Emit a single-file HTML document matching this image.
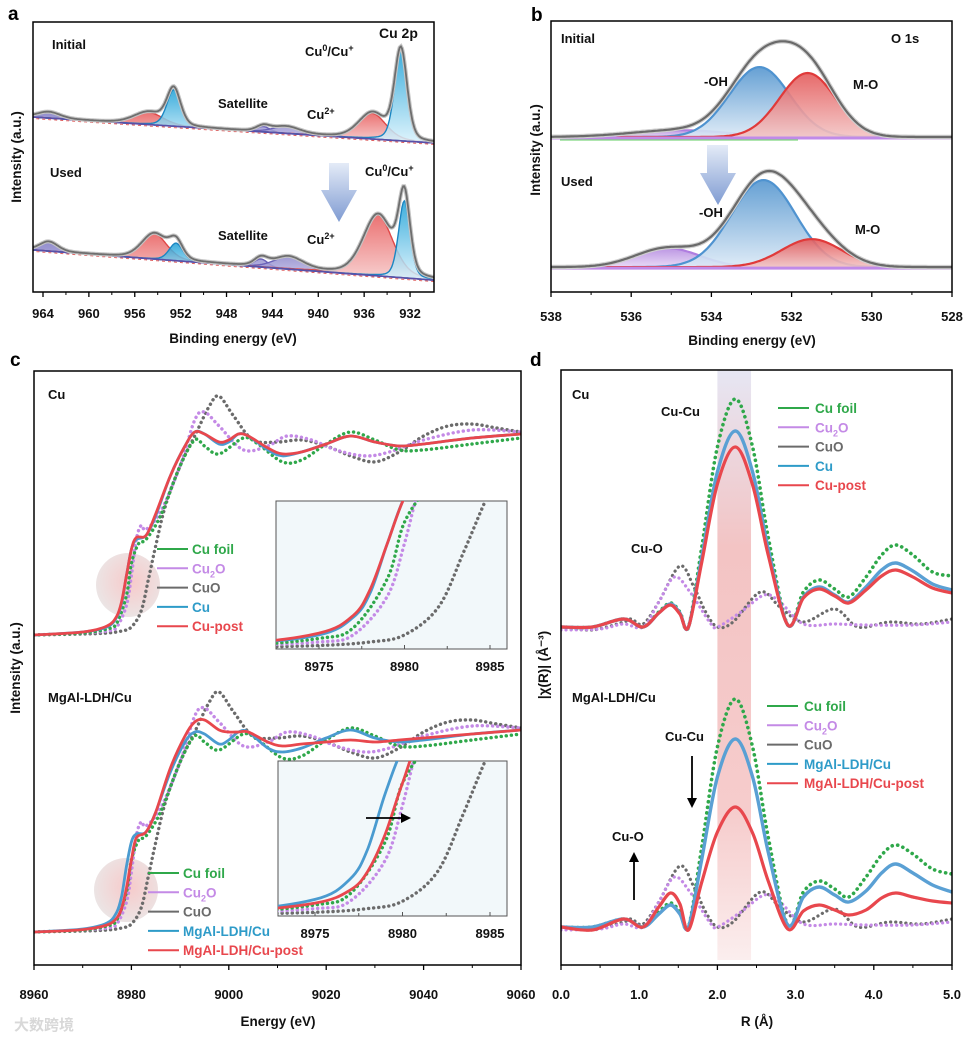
<!DOCTYPE html>
<html><head><meta charset="utf-8">
<style>
html,body{margin:0;padding:0;background:#fff;}
svg{display:block;font-family:"Liberation Sans","Noto Sans CJK SC",sans-serif;}
.lbl{font-weight:bold;font-size:13px;fill:#111;}
.tick{font-weight:bold;font-size:13px;fill:#111;}
.ttl{font-weight:bold;font-size:13.5px;fill:#111;}
.plet{font-weight:bold;font-size:19px;fill:#000;}
.leg{font-weight:bold;font-size:13.5px;}
</style></head>
<body>
<svg id="fig" width="976" height="1038" viewBox="0 0 976 1038" xmlns="http://www.w3.org/2000/svg">
<defs>
<linearGradient id="gBlueA" x1="0" y1="0" x2="0" y2="1"><stop offset="0" stop-color="#1a9fd6"/><stop offset="1" stop-color="#d9f2fc"/></linearGradient>
<linearGradient id="gRedA" x1="0" y1="0" x2="0" y2="1"><stop offset="0" stop-color="#e85a5a"/><stop offset="1" stop-color="#f6c9c9"/></linearGradient>
<linearGradient id="gPurA" x1="0" y1="0" x2="0" y2="1"><stop offset="0" stop-color="#7e78c4"/><stop offset="1" stop-color="#c9c6ea"/></linearGradient>
<linearGradient id="gBlueB" x1="0" y1="0" x2="0" y2="1"><stop offset="0" stop-color="#5596cf"/><stop offset="1" stop-color="#dbe9f6"/></linearGradient>
<linearGradient id="gRedB" x1="0" y1="0" x2="0" y2="1"><stop offset="0" stop-color="#e45a5a"/><stop offset="1" stop-color="#f3c4c4"/></linearGradient>
<linearGradient id="gPurB" x1="0" y1="0" x2="0" y2="1"><stop offset="0" stop-color="#b58be0"/><stop offset="1" stop-color="#e6d6f5"/></linearGradient>
<linearGradient id="gArrow" x1="0" y1="0" x2="0" y2="1"><stop offset="0" stop-color="#e4ebf7"/><stop offset="1" stop-color="#7f9bd2"/></linearGradient>
<linearGradient id="gBand" x1="0" y1="0" x2="0" y2="1"><stop offset="0" stop-color="#e6e6f3"/><stop offset="0.3" stop-color="#f3c4c4"/><stop offset="0.75" stop-color="#f6cccc"/><stop offset="1" stop-color="#fbeeee"/></linearGradient>
<radialGradient id="gCirc" cx="0.55" cy="0.45" r="0.6"><stop offset="0" stop-color="#f4b8b8"/><stop offset="1" stop-color="#e4dede"/></radialGradient>
<clipPath id="clipA"><rect x="33" y="22" width="401" height="270"/></clipPath>
<clipPath id="clipB"><rect x="551" y="21" width="401" height="271"/></clipPath>
<clipPath id="clipC"><rect x="34" y="371" width="487" height="594"/></clipPath>
<clipPath id="clipI1"><rect x="276" y="501" width="231" height="148"/></clipPath>
<clipPath id="clipI2"><rect x="278" y="761" width="229" height="155"/></clipPath>
<clipPath id="clipD"><rect x="561" y="370" width="391" height="595"/></clipPath>
</defs>
<g id="layer"></g>
</svg>
<script>
// ===== Panel a data (Cu 2p XPS fitted components) =====
const aTopCenters=[932.8,935.3,952.6,954.8,944.8,942.8,963.5];
const aTopHeights=[33.5,9.5,13.5,4.5,2,2.5,2.3];
const aTopWidths=[0.55,1.2,0.6,1.3,0.6,1.2,1.0];
const aTopKinds=['blue','red','blue','red','purple','purple','purple'];
const aTopBase=[64.8,55.2];
const aUsedCenters=[932.5,934.8,952.4,954.3,945.0,942.6,963.5];
const aUsedHeights=[28.5,22.5,6.5,9.4,3,4.5,3.5];
const aUsedWidths=[0.5,1.3,0.6,1.1,0.6,1.3,0.8];
const aUsedKinds=['blue','red','blue','red','purple','purple','purple'];
const aUsedBase=[15.6,4.4];
const aTicks=[964,960,956,952,948,944,940,936,932];
// ===== Panel b data (O 1s) =====
const bTopCenters=[532.8,531.6,534.8];
const bTopHeights=[25.8,23.6,2.5];
const bTopWidths=[0.75,0.7,1.2];
const bTopKinds=['blue','red','purple'];
const bTopBase=57.2;
const bUsedCenters=[532.7,531.5,535.1];
const bUsedHeights=[32.1,10.3,7];
const bUsedWidths=[0.8,0.75,0.8];
const bUsedKinds=['blue','red','purple'];
const bUsedBase=9.2;
const bTicks=[538,536,534,532,530,528];
// ===== Panel c data (XANES) =====
const cuFoilE=[8960,8970,8975,8977,8979,8980,8981.5,8983,8986,8990,8993,8995,8998,9003,9006,9011,9015,9020,9025,9030,9035,9040,9050,9060];
const cuFoilMu=[0,0.01,0.03,0.06,0.2,0.36,0.46,0.48,0.6,0.85,0.98,0.95,0.91,0.99,0.96,0.87,0.88,0.96,1.02,0.98,0.93,0.93,0.96,0.99];
const cu2oE=[8960,8970,8975,8977,8979,8980,8981,8982,8983,8986,8990,8993,8995,8998,9003,9008,9012,9017,9022,9028,9033,9040,9050,9060];
const cu2oMu=[0,0.01,0.02,0.04,0.15,0.3,0.48,0.55,0.53,0.62,0.85,1.08,1.12,1.05,0.93,0.95,1.0,0.98,0.93,0.9,0.92,0.98,1.03,1.02];
const cuoE=[8960,8970,8975,8978,8980,8982,8983.5,8985,8987,8990,8993,8996,8998,9001,9005,9010,9015,9020,9025,9030,9035,9040,9045,9050,9055,9060];
const cuoMu=[0,0.005,0.01,0.02,0.04,0.12,0.28,0.45,0.65,0.85,1.0,1.15,1.2,1.1,0.98,0.97,0.98,0.95,0.9,0.87,0.92,1.0,1.05,1.06,1.04,1.02];
const sampleE=[8960,8970,8975,8977,8978,8979,8980,8981,8983,8985,8988,8991,8993,8995,8998,9000,9002,9004,9008,9011,9015,9020,9025,9030,9035,9040,9050,9060];
const cuMu=[0,0.015,0.04,0.09,0.16,0.3,0.43,0.48,0.5,0.6,0.8,0.95,1.02,1.01,0.96,0.97,1.01,1.0,0.93,0.9,0.92,0.96,1.0,0.97,0.95,0.96,0.99,1.01];
const cuPostMu=[0,0.015,0.045,0.095,0.17,0.3,0.43,0.49,0.5,0.61,0.8,0.95,1.02,1.01,0.97,0.98,1.01,1.0,0.94,0.91,0.92,0.96,1.0,0.97,0.95,0.96,0.99,1.01];
const mgalMu=[0,0.015,0.045,0.1,0.18,0.33,0.45,0.49,0.5,0.6,0.8,0.95,1.0,0.99,0.94,0.96,1.0,1.0,0.92,0.9,0.92,0.97,1.01,0.97,0.95,0.96,0.99,1.01];
const mgalPostMu=[0,0.012,0.035,0.07,0.12,0.22,0.36,0.47,0.5,0.6,0.82,0.98,1.05,1.06,1.01,1.0,1.0,1.0,0.95,0.93,0.94,0.95,0.96,0.95,0.96,0.97,0.99,1.01];
const cTicks=[8960,8980,9000,9020,9040,9060];
const insetTicks=[8975,8980,8985];
// ===== Panel d data (EXAFS FT) =====
const metalR=[0,0.4,0.8,1.05,1.25,1.4,1.52,1.63,1.8,2.0,2.23,2.45,2.65,2.9,3.1,3.3,3.5,3.68,3.9,4.1,4.28,4.5,4.75,5.0];
const foilTop=[0,0,0.8,0,1.5,2.4,1.5,0,8,18,22.8,18,9,0.2,3.5,4.7,3.8,3.0,5.0,7.2,8.2,7.2,5.5,5.1];
const cuTop=[0,0,0.8,0,1.4,2.3,1.4,0,7,15.5,19.6,15.5,7.8,0.2,3.0,4.0,3.2,2.5,4.0,5.7,6.4,5.6,4.3,3.7];
const cuPostTop=[0,0,0.8,0,1.4,2.2,1.3,0,6.5,14.3,18.0,14.2,7.2,0.2,2.9,3.8,3.1,2.4,3.7,5.1,5.7,5.0,3.9,3.4];
const foilBot=[0,0,0.8,0,1.5,2.4,1.5,0,8,18,22.8,18,9,0.2,3.5,4.6,3.8,3.0,5.0,7.2,8.2,7.3,5.8,5.3];
const mgalBot=[0,0,0.8,0,1.3,2.2,1.3,0,6.8,15,18.8,15,7.5,0.2,3.0,4.0,3.2,2.5,3.6,5.4,6.3,5.4,4.2,3.5];
const mgalPostBot=[0,-0.3,0.8,0,2.0,3.4,2.3,-0.3,4.5,9.5,12.0,9.4,4.6,-0.2,1.6,2.2,1.7,1.2,1.7,2.9,3.4,3.0,2.6,2.4];
const cuoR=[0,0.4,0.8,0.9,1.05,1.25,1.52,1.7,1.85,2.0,2.2,2.55,2.8,3.1,3.5,3.8,4.2,4.6,5.0];
const cuoVals=[0,-0.3,0.5,0.8,0.3,2.5,6.1,4,1.5,0,0.5,3.5,2.0,0.5,1.8,0,0.5,0.3,0.8];
const cu2oR=[0,0.5,0.8,1.05,1.25,1.45,1.65,1.9,2.0,2.3,2.6,2.8,3.1,3.5,3.9,4.5,5.0];
const cu2oVals=[-0.3,-0.2,0.3,0,2.5,5.0,3.5,0.5,0,1.5,3.2,2.5,0.3,0.3,0.2,0.2,0.5];
const dTicks=[0,1,2,3,4,5];

const NS='http://www.w3.org/2000/svg';
const layer=document.getElementById('layer');
function mk(tag,attrs,parent){const e=document.createElementNS(NS,tag);for(const k in attrs)e.setAttribute(k,attrs[k]);(parent||layer).appendChild(e);return e;}
function txt(x,y,s,cls,parent,anchor,fill,size){const t=mk('text',{x:x,y:y,class:cls},parent);if(anchor)t.setAttribute('text-anchor',anchor);if(fill)t.style.fill=fill;if(size)t.style.fontSize=size;t.textContent=s;return t;}
function smooth(pts){let d='M'+pts[0][0].toFixed(1)+','+pts[0][1].toFixed(1);for(let i=0;i<pts.length-1;i++){const p0=pts[i-1]||pts[i],p1=pts[i],p2=pts[i+1],p3=pts[i+2]||p2;const c1=[p1[0]+(p2[0]-p0[0])/6,p1[1]+(p2[1]-p0[1])/6];const c2=[p2[0]-(p3[0]-p1[0])/6,p2[1]-(p3[1]-p1[1])/6];d+='C'+c1[0].toFixed(1)+','+c1[1].toFixed(1)+' '+c2[0].toFixed(1)+','+c2[1].toFixed(1)+' '+p2[0].toFixed(1)+','+p2[1].toFixed(1);}return d;}
function poly(pts){return 'M'+pts.map(p=>p[0].toFixed(1)+','+p[1].toFixed(1)).join('L');}
function pv(x,c,h,w,eta){const g=Math.exp(-(x-c)*(x-c)/(2*w*w));const l=1/(1+((x-c)/(w*1.18))**2);return h*((1-eta)*g+eta*l);}

function ticksX(g,vals,xf,yb,minorVals){vals.forEach(v=>{mk('line',{x1:xf(v),x2:xf(v),y1:yb,y2:yb+5,stroke:'#000','stroke-width':1.3},g);});(minorVals||[]).forEach(v=>{mk('line',{x1:xf(v),x2:xf(v),y1:yb,y2:yb+3,stroke:'#000','stroke-width':1},g);});}

// ================= Panel a =================
(function(){
const g=mk('g',{});


const xa=E=>43+(964-E)*11.47, ya=v=>292-2.7*v;
const Emin=929.9,Emax=964.9;
const fills={blue:'url(#gBlueA)',red:'url(#gRedA)',purple:'url(#gPurA)'};
const strokes={blue:'#1b86c2',red:'#e04848',purple:'#6a62b8'};
const cg=mk('g',{'clip-path':'url(#clipA)'},g);
function spectrum(centers,heights,widths,kinds,base,name){
  const sg=mk('g',{},cg);
  
  
  const bl=E=>base[1]+(E-Emin)/(Emax-Emin)*(base[0]-base[1]);
  const xs=[];for(let E=Emin;E<=Emax+0.001;E+=0.1)xs.push(E);
  const order=[4,5,6,1,3,0,2];
  order.forEach(i=>{
    const top=xs.map(E=>[xa(E),ya(bl(E)+pv(E,centers[i],heights[i],widths[i],0.3))]);
    const bot=xs.slice().reverse().map(E=>[xa(E),ya(bl(E))]);
    const p=mk('path',{d:poly(top.concat(bot))+'Z',fill:fills[kinds[i]],'fill-opacity':0.85,stroke:'none'},sg);
    
    
    mk('path',{d:poly(top),fill:'none',stroke:strokes[kinds[i]],'stroke-width':1.4},sg);
  });
  mk('path',{d:poly(xs.map(E=>[xa(E),ya(bl(E))])),fill:'none',stroke:'#5a4fa8','stroke-width':1.6},sg);
  mk('path',{d:poly(xs.map(E=>[xa(E),ya(bl(E))+1.5])),fill:'none',stroke:'#e06060','stroke-width':1,'stroke-dasharray':'3 3'},sg);
  const env=xs.map(E=>{let s=bl(E);for(let i=0;i<centers.length;i++)s+=pv(E,centers[i],heights[i],widths[i],0.3);return [xa(E),ya(s)];});
  mk('path',{d:poly(env),fill:'none',stroke:'#c4c4c4','stroke-width':4},sg);
  const e=mk('path',{d:poly(env),fill:'none',stroke:'#6e6e6e','stroke-width':1.8},sg);
  
  
}
spectrum(aTopCenters,aTopHeights,aTopWidths,aTopKinds,aTopBase,'initial-spectrum');
spectrum(aUsedCenters,aUsedHeights,aUsedWidths,aUsedKinds,aUsedBase,'used-spectrum');
mk('rect',{x:33,y:22,width:401,height:270,fill:'none',stroke:'#000','stroke-width':1.5},g);
const minors=[];for(let v=962;v>930;v-=4)minors.push(v);
ticksX(g,aTicks,xa,292,minors);
aTicks.forEach(v=>{const t=txt(xa(v),318,String(v),'tick',g,'middle');});
const xt=txt(233,343,'Binding energy (eV)','ttl',g,'middle');
const yt=txt(0,0,'Intensity (a.u.)','ttl',g,'middle');yt.setAttribute('transform','translate(21,157) rotate(-90)');
txt(8,20,'a','plet',g);
txt(52,49,'Initial','lbl',g);
txt(379,38,'Cu 2p','lbl',g,null,null,'14px');
const s1=txt(305,56,'Cu','lbl',g);mk('tspan',{dy:-5,'font-size':'9px'},s1).textContent='0';mk('tspan',{dy:5},s1).textContent='/Cu';mk('tspan',{dy:-5,'font-size':'9px'},s1).textContent='+';
txt(218,108,'Satellite','lbl',g);
const s2=txt(307,119,'Cu','lbl',g);mk('tspan',{dy:-5,'font-size':'9px'},s2).textContent='2+';
txt(50,177,'Used','lbl',g);
const s3=txt(365,176,'Cu','lbl',g);mk('tspan',{dy:-5,'font-size':'9px'},s3).textContent='0';mk('tspan',{dy:5},s3).textContent='/Cu';mk('tspan',{dy:-5,'font-size':'9px'},s3).textContent='+';
txt(218,240,'Satellite','lbl',g);
const s4=txt(307,244,'Cu','lbl',g);mk('tspan',{dy:-5,'font-size':'9px'},s4).textContent='2+';
const ar=mk('path',{d:'M329,163 L349,163 L349,190 L357,190 L339,222 L321,190 L329,190 Z',fill:'url(#gArrow)'},g);

})();

// ================= Panel b =================
(function(){
const g=mk('g',{});


const xb=E=>551+(538-E)*40.1, yb=v=>292-2.71*v;
const fills={blue:'url(#gBlueB)',red:'url(#gRedB)',purple:'url(#gPurB)'};
const strokes={blue:'#4f93d0',red:'#e03a3a',purple:'#b07ee0'};
const cg=mk('g',{'clip-path':'url(#clipB)'},g);
function spectrum(centers,heights,widths,kinds,base,name){
  const sg=mk('g',{},cg);
  
  
  const xs=[];for(let E=527.9;E<=538.1;E+=0.05)xs.push(E);
  [2,0,1].forEach(i=>{
    const top=xs.map(E=>[xb(E),yb(base+pv(E,centers[i],heights[i],widths[i],0))]);
    const bot=xs.slice().reverse().map(E=>[xb(E),yb(base)]);
    const p=mk('path',{d:poly(top.concat(bot))+'Z',fill:fills[kinds[i]],'fill-opacity':0.9},sg);
    
    
    mk('path',{d:poly(top),fill:'none',stroke:strokes[kinds[i]],'stroke-width':2.2},sg);
  });
  mk('line',{x1:551,x2:952,y1:yb(base)+1,y2:yb(base)+1,stroke:'#c08ae8','stroke-width':3},sg);
  const env=xs.map(E=>{let s=base;for(let i=0;i<centers.length;i++)s+=pv(E,centers[i],heights[i],widths[i],0);return [xb(E),yb(s)];});
  mk('path',{d:poly(env),fill:'none',stroke:'#cfcfcf','stroke-width':4.5},sg);
  const e=mk('path',{d:poly(env),fill:'none',stroke:'#6a6a6a','stroke-width':2.2},sg);
  
  
}
spectrum(bTopCenters,bTopHeights,bTopWidths,bTopKinds,bTopBase,'initial-spectrum');
mk('line',{x1:560,x2:798,y1:140,y2:140,stroke:'#7fd87f','stroke-width':1.2},g);
spectrum(bUsedCenters,bUsedHeights,bUsedWidths,bUsedKinds,bUsedBase,'used-spectrum');
mk('rect',{x:551,y:21,width:401,height:271,fill:'none',stroke:'#000','stroke-width':1.5},g);
ticksX(g,bTicks,xb,292,[537,535,533,531,529]);
bTicks.forEach(v=>{const t=txt(xb(v),321,String(v),'tick',g,'middle');});
const xt=txt(752,345,'Binding energy (eV)','ttl',g,'middle');
const yt=txt(0,0,'Intensity (a.u.)','ttl',g,'middle');yt.setAttribute('transform','translate(540,150) rotate(-90)');
txt(531,21,'b','plet',g);
txt(561,43,'Initial','lbl',g);
txt(891,43,'O 1s','lbl',g);
txt(704,86,'-OH','lbl',g);
txt(853,89,'M-O','lbl',g);
txt(561,186,'Used','lbl',g);
txt(699,217,'-OH','lbl',g);
txt(855,234,'M-O','lbl',g);
const ar=mk('path',{d:'M707,145 L728,145 L728,173 L736,173 L718,205 L700,173 L707,173 Z',fill:'url(#gArrow)'},g);

})();

// ================= Panel c =================
(function(){
const g=mk('g',{});


const xc=E=>34+(E-8960)*4.87;
const styles={foil:{stroke:'#2fa84a',dash:'0.1 5',w:3.4},cu2o:{stroke:'#c48ae6',dash:'0.1 5',w:3.4},cuo:{stroke:'#6b6b6b',dash:'0.1 5',w:3.4},cu:{stroke:'#4a9bd0',w:2.8},post:{stroke:'#e8474d',w:2.8}};
function line(parent,Es,Mu,xf,yf,key,name){
  const st=styles[key];
  const p=mk('path',{d:smooth(Es.map((E,i)=>[xf(E),yf(Mu[i])])),fill:'none',stroke:st.stroke,'stroke-width':st.w,'stroke-linecap':'round'},parent);
  if(st.dash)p.setAttribute('stroke-dasharray',st.dash);
  
  
}
mk('circle',{cx:128,cy:585,r:32,fill:'url(#gCirc)','fill-opacity':0.75},g);
mk('circle',{cx:126,cy:890,r:32,fill:'url(#gCirc)','fill-opacity':0.75},g);
const cg=mk('g',{'clip-path':'url(#clipC)'},g);
const yT=m=>635-199*m, yB=m=>932-200*m;
line(cg,cuoE,cuoMu,xc,yT,'cuo','cuo-top');
line(cg,cu2oE,cu2oMu,xc,yT,'cu2o','cu2o-top');
line(cg,cuFoilE,cuFoilMu,xc,yT,'foil','cu-foil-top');
line(cg,sampleE,cuMu,xc,yT,'cu','cu-top');
line(cg,sampleE,cuPostMu,xc,yT,'post','cu-post-top');
line(cg,cuoE,cuoMu,xc,yB,'cuo','cuo-bottom');
line(cg,cu2oE,cu2oMu,xc,yB,'cu2o','cu2o-bottom');
line(cg,cuFoilE,cuFoilMu,xc,yB,'foil','cu-foil-bottom');
line(cg,sampleE,mgalMu,xc,yB,'cu','mgal-ldh-cu');
line(cg,sampleE,mgalPostMu,xc,yB,'post','mgal-ldh-cu-post');
function inset(x,y,w,h,clip,xf,yf,sets,name,ly){
  const ig=mk('g',{},g);
  
  
  mk('rect',{x:x,y:y,width:w,height:h,fill:'#f2f8fa',stroke:'#555','stroke-width':1},ig);
  const c=mk('g',{'clip-path':'url(#'+clip+')'},ig);
  sets.forEach(s=>line(c,s[0],s[1],xf,yf,s[2],s[3]));
  insetTicks.forEach(v=>{mk('line',{x1:xf(v),x2:xf(v),y1:y+h,y2:y+h-4,stroke:'#555'},ig);const t=txt(xf(v),ly,String(v),'tick',ig,'middle');});
  [8977.5,8982.5].forEach(v=>mk('line',{x1:xf(v),x2:xf(v),y1:y+h,y2:y+h-3,stroke:'#555'},ig));
}
const xi1=E=>319+(E-8975)*17.1, yi1=m=>649-m/0.42*148;
inset(276,501,231,148,'clipI1',xi1,yi1,[[cuoE,cuoMu,'cuo','cuo'],[cu2oE,cu2oMu,'cu2o','cu2o'],[cuFoilE,cuFoilMu,'foil','cu-foil'],[sampleE,cuMu,'cu','cu'],[sampleE,cuPostMu,'post','cu-post']],'inset-top',671);
const xi2=E=>315+(E-8975)*17.5, yi2=m=>916-m/0.42*155;
inset(278,761,229,155,'clipI2',xi2,yi2,[[cuoE,cuoMu,'cuo','cuo'],[cu2oE,cu2oMu,'cu2o','cu2o'],[cuFoilE,cuFoilMu,'foil','cu-foil'],[sampleE,mgalMu,'cu','mgal-ldh-cu'],[sampleE,mgalPostMu,'post','mgal-ldh-cu-post']],'inset-bottom',938);
mk('line',{x1:366,x2:404,y1:818,y2:818,stroke:'#000','stroke-width':1.8},g);
mk('path',{d:'M411,818 L401,813 L401,823 Z',fill:'#000'},g);
function legend(x,y0,items){
  items.forEach((it,i)=>{const y=y0+i*19.3;
    const lg=mk('g',{},g);
    
    
    mk('line',{x1:x,x2:x+31,y1:y,y2:y,stroke:it[1],'stroke-width':2},lg);
    const t=txt(x+35,y+5,it[0],'leg',lg,null,it[1]);
    if(it[0]==='Cu2O'){t.textContent='Cu';mk('tspan',{dy:4,'font-size':'9px'},t).textContent='2';mk('tspan',{dy:-4},t).textContent='O';}
  });
}
legend(157,549,[['Cu foil','#2fa84a','cu-foil'],['Cu2O','#c48ae6','cu2o'],['CuO','#6b6b6b','cuo'],['Cu','#2e9bc8','cu'],['Cu-post','#e8474d','cu-post']]);
legend(148,873,[['Cu foil','#2fa84a','cu-foil'],['Cu2O','#c48ae6','cu2o'],['CuO','#6b6b6b','cuo'],['MgAl-LDH/Cu','#2e9bc8','mgal-ldh-cu'],['MgAl-LDH/Cu-post','#e8474d','mgal-ldh-cu-post']]);
mk('rect',{x:34,y:371,width:487,height:594,fill:'none',stroke:'#000','stroke-width':1.5},g);
ticksX(g,cTicks,xc,965,[8970,8990,9010,9030,9050]);
cTicks.forEach(v=>{const t=txt(xc(v),999,String(v),'tick',g,'middle');});
const xt=txt(278,1026,'Energy (eV)','ttl',g,'middle');
const yt=txt(0,0,'Intensity (a.u.)','ttl',g,'middle');yt.setAttribute('transform','translate(20,668) rotate(-90)');
txt(10,366,'c','plet',g);
txt(48,399,'Cu','lbl',g);
txt(48,702,'MgAl-LDH/Cu','lbl',g);
const wm=txt(14,1030,'大数跨境','lbl',g,null,'#d8d8d8','15px');
})();

// ================= Panel d =================
(function(){
const g=mk('g',{});


const xd=R=>561+R*78.2;
const band=mk('rect',{x:xd(2.0),y:370,width:xd(2.43)-xd(2.0),height:590,fill:'url(#gBand)'},g);

const styles={foil:{stroke:'#2fa84a',dash:'0.1 5.5',w:3.6},cu2o:{stroke:'#c48ae6',dash:'0.1 5',w:3.2},cuo:{stroke:'#6b6b6b',dash:'0.1 5',w:3.2},cu:{stroke:'#5aa0d4',w:3.4},post:{stroke:'#e8474d',w:3.2}};
const cg=mk('g',{'clip-path':'url(#clipD)'},g);
function line(Rs,V,yf,key,name){
  const st=styles[key];
  const p=mk('path',{d:smooth(Rs.map((R,i)=>[xd(R),yf(V[i])])),fill:'none',stroke:st.stroke,'stroke-width':st.w,'stroke-linecap':'round'},cg);
  if(st.dash)p.setAttribute('stroke-dasharray',st.dash);
  
  
}
const yT=v=>627-10*v, yB=v=>927-10*v;
line(cuoR,cuoVals,yT,'cuo','cuo-top');
line(cu2oR,cu2oVals,yT,'cu2o','cu2o-top');
line(metalR,foilTop,yT,'foil','cu-foil-top');
line(metalR,cuTop,yT,'cu','cu-top');
line(metalR,cuPostTop,yT,'post','cu-post-top');
line(cuoR,cuoVals,yB,'cuo','cuo-bottom');
line(cu2oR,cu2oVals,yB,'cu2o','cu2o-bottom');
line(metalR,foilBot,yB,'foil','cu-foil-bottom');
line(metalR,mgalBot,yB,'cu','mgal-ldh-cu');
line(metalR,mgalPostBot,yB,'post','mgal-ldh-cu-post');
function legend(x,y0,items){
  items.forEach((it,i)=>{const y=y0+i*19.3;
    const lg=mk('g',{},g);
    
    
    mk('line',{x1:x,x2:x+31,y1:y,y2:y,stroke:it[1],'stroke-width':2},lg);
    const t=txt(x+37,y+5,it[0],'leg',lg,null,it[1]);
    if(it[0]==='Cu2O'){t.textContent='Cu';mk('tspan',{dy:4,'font-size':'9px'},t).textContent='2';mk('tspan',{dy:-4},t).textContent='O';}
  });
}
legend(778,408,[['Cu foil','#2fa84a','cu-foil'],['Cu2O','#c48ae6','cu2o'],['CuO','#6b6b6b','cuo'],['Cu','#2e9bc8','cu'],['Cu-post','#e8474d','cu-post']]);
legend(767,706,[['Cu foil','#2fa84a','cu-foil'],['Cu2O','#c48ae6','cu2o'],['CuO','#6b6b6b','cuo'],['MgAl-LDH/Cu','#2e9bc8','mgal-ldh-cu'],['MgAl-LDH/Cu-post','#e8474d','mgal-ldh-cu-post']]);
mk('rect',{x:561,y:370,width:391,height:595,fill:'none',stroke:'#000','stroke-width':1.5},g);
ticksX(g,dTicks,xd,965,[0.5,1.5,2.5,3.5,4.5]);
dTicks.forEach(v=>{const t=txt(xd(v),999,v.toFixed(1),'tick',g,'middle');});
const xt=txt(757,1026,'R (Å)','ttl',g,'middle');
const yt=txt(0,0,'|χ(R)| (Å⁻³)','ttl',g,'middle');yt.setAttribute('transform','translate(548,665) rotate(-90)');
txt(530,366,'d','plet',g);
txt(572,399,'Cu','lbl',g);
txt(661,416,'Cu-Cu','lbl',g);
txt(631,553,'Cu-O','lbl',g);
txt(572,702,'MgAl-LDH/Cu','lbl',g);
txt(665,741,'Cu-Cu','lbl',g);
txt(612,841,'Cu-O','lbl',g);
mk('line',{x1:692,x2:692,y1:756,y2:800,stroke:'#000','stroke-width':1.8},g);
mk('path',{d:'M692,808 L687,798 L697,798 Z',fill:'#000'},g);
mk('line',{x1:634,x2:634,y1:900,y2:860,stroke:'#000','stroke-width':1.8},g);
mk('path',{d:'M634,852 L629,862 L639,862 Z',fill:'#000'},g);
})();
</script>
</body></html>
